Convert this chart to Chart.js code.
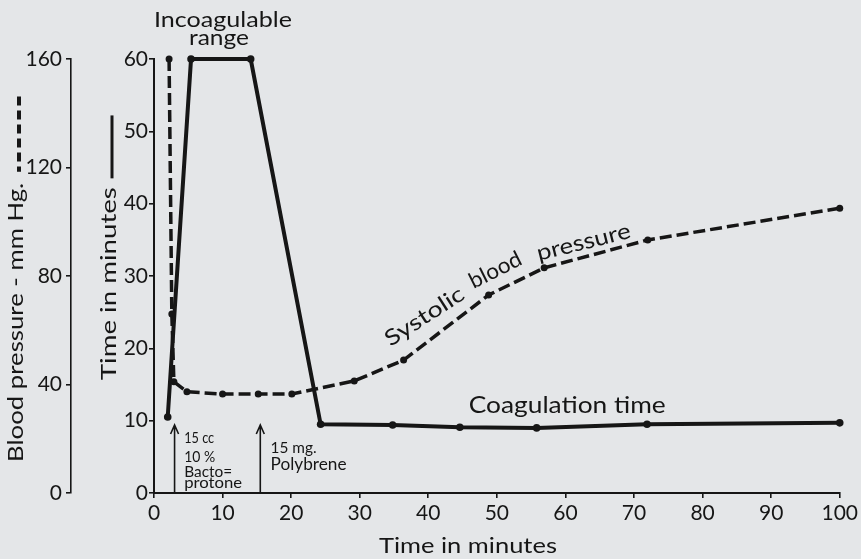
<!DOCTYPE html>
<html>
<head>
<meta charset="utf-8">
<script src="https://cdn.jsdelivr.net/npm/chart.js@4/dist/chart.umd.min.js"></script>
<style>
  html, body { margin: 0; padding: 0; background: #e4e6e8; }
  #chart { display: block; background: #e4e6e8; }
</style>
</head>
<body>
<canvas id="chart" width="861" height="559"></canvas>
<script>
// tick labels
const minuteTicks = [0, 10, 20, 30, 40, 50, 60, 70, 80, 90, 100];
const timeTicks = [0, 10, 20, 30, 40, 50, 60];
const pressureTicks = [0, 40, 80, 120, 160];

// coagulation time (minutes) vs time (minutes)
const coagMinutes = [2, 5.4, 14.1, 24.3, 34.8, 44.6, 55.8, 71.9, 100];
const coagTime = [10.5, 60, 60, 9.5, 9.4, 9.1, 9.0, 9.5, 9.7];

// systolic blood pressure (mm Hg) vs time (minutes)
const bpMinutes = [2.2, 2.6, 2.9, 4.8, 10, 15.2, 20.1, 29.2, 36.4, 48.8, 56.9, 72, 100];
const bpValues = [160, 66, 41, 37.3, 36.5, 36.5, 36.5, 41.3, 49, 73, 83, 93.3, 105];

// injections (minute at which given)
const injectionMinutes = [3, 15.5];

const INK = '#161616';
Chart.defaults.font.family = 'Lato';
Chart.defaults.color = INK;

// draws text squeezed/stretched to a given width
function fitText(ctx, text, x, y, w, size, angle, middle) {
    ctx.save();
    ctx.font = size + 'px Lato';
    const m = ctx.measureText(text).width;
    ctx.translate(x, y);
    if (angle) ctx.rotate(angle);
    ctx.scale(w / m, 1);
    ctx.textAlign = 'left';
    ctx.textBaseline = middle ? 'middle' : 'alphabetic';
    ctx.fillStyle = INK;
    ctx.fillText(text, 0, 0);
    ctx.restore();
}

const notesPlugin = {
    id: 'notes',
    afterDraw(chart) {
        const ctx = chart.ctx;
        const sx = chart.scales.x, sy = chart.scales.y, sb = chart.scales.y1;
        const px = v => sx.getPixelForValue(v);
        const py = v => sy.getPixelForValue(v);

        // axis titles (rotated)
        fitText(ctx, 'Blood pressure - mm Hg.', sb.left + 16, py(4.3), 279, 22, -Math.PI / 2, true);
        fitText(ctx, 'Time in minutes', sy.left + 38, py(15.6), 193, 21, -Math.PI / 2, true);
        fitText(ctx, 'Time in minutes', px(32.8), 553, 178, 22);

        // legend keys next to the axis titles
        ctx.save();
        ctx.strokeStyle = INK;
        ctx.lineWidth = 4;
        ctx.setLineDash([9, 5]);
        ctx.beginPath();
        ctx.moveTo(sb.left + 19, py(54.8));
        ctx.lineTo(sb.left + 19, py(44.4));
        ctx.stroke();
        ctx.setLineDash([]);
        ctx.lineWidth = 3;
        ctx.beginPath();
        ctx.moveTo(sy.left + 41, py(52.2));
        ctx.lineTo(sy.left + 41, py(43.5));
        ctx.stroke();

        // injection arrows
        ctx.lineWidth = 1.6;
        injectionMinutes.forEach(m => {
            const x = px(m), top = py(9.4);
            ctx.beginPath();
            ctx.moveTo(x, py(0));
            ctx.lineTo(x, top);
            ctx.moveTo(x - 4, top + 9);
            ctx.lineTo(x, top);
            ctx.lineTo(x + 4, top + 9);
            ctx.stroke();
        });
        ctx.restore();

        // labels
        fitText(ctx, 'Incoagulable', px(0), py(64.4), 138, 21);
        fitText(ctx, 'range', px(5.1), py(62.0), 60, 21);
        fitText(ctx, 'Coagulation time', px(45.9), py(11.1), 197, 23);
        // curved label, one word at a time
        fitText(ctx, 'Systolic', px(34.5), py(20.2), 90, 22, -0.573);
        fitText(ctx, 'blood', px(46.6), py(28.2), 56, 22, -0.464);
        fitText(ctx, 'pressure', px(56.1), py(32.1), 96, 22, -0.245);
        fitText(ctx, '15 cc', px(4.4), py(6.9), 30, 16);
        fitText(ctx, '10 %', px(4.4), py(4.3), 31, 16);
        fitText(ctx, 'Bacto=', px(4.4), py(2.2), 48, 16);
        fitText(ctx, 'protone', px(4.4), py(0.7), 58, 16);
        fitText(ctx, '15 mg.', px(17.0), py(5.5), 46, 16);
        fitText(ctx, 'Polybrene', px(17.0), py(3.2), 76, 17);
    }
};

const axisLook = (borderWidth) => ({
    grid: { display: true, drawOnChartArea: false, drawTicks: true, tickLength: 5, color: INK, lineWidth: 1.6 },
    border: { display: true, color: INK, width: borderWidth }
});

new Chart(document.getElementById('chart'), {
    type: 'line',
    data: {
        datasets: [
            {
                label: 'Coagulation time',
                data: coagMinutes.map((m, i) => ({ x: m, y: coagTime[i] })),
                yAxisID: 'y',
                borderColor: INK,
                borderWidth: 4,
                pointRadius: 3.8,
                pointBackgroundColor: INK,
                pointBorderWidth: 0,
                tension: 0,
                clip: false
            },
            {
                label: 'Systolic blood pressure',
                data: bpMinutes.map((m, i) => ({ x: m, y: bpValues[i] })),
                yAxisID: 'y1',
                borderColor: INK,
                borderWidth: 3.5,
                borderDash: [12, 5],
                pointRadius: 3.5,
                pointBackgroundColor: INK,
                pointBorderWidth: 0,
                tension: 0,
                clip: false
            }
        ]
    },
    options: {
        responsive: false,
        animation: false,
        layout: { padding: { top: 59, right: 20, bottom: 0, left: 0 } },
        plugins: { legend: { display: false }, tooltip: { enabled: false } },
        scales: {
            x: {
                type: 'linear', min: 0, max: 100,
                ...axisLook(2),
                ticks: { color: INK, font: { size: 21 }, padding: 3, maxRotation: 0 },
                afterBuildTicks: s => { s.ticks = minuteTicks.map(v => ({ value: v })); },
                afterFit: s => { s.height = 66; }
            },
            y: {
                type: 'linear', position: 'left', min: 0, max: 60, weight: 0,
                ...axisLook(2),
                ticks: { color: INK, font: { size: 21 }, padding: 1 },
                afterBuildTicks: s => { s.ticks = timeTicks.map(v => ({ value: v })); },
                afterFit: s => { s.width = 83; }
            },
            y1: {
                type: 'linear', position: 'left', min: 0, max: 160, weight: 1,
                ...axisLook(1.6),
                ticks: { color: INK, font: { size: 21 }, padding: 4 },
                afterBuildTicks: s => { s.ticks = pressureTicks.map(v => ({ value: v })); },
                afterFit: s => { s.width = 71; }
            }
        }
    },
    plugins: [notesPlugin]
});
</script>
</body>
</html>
